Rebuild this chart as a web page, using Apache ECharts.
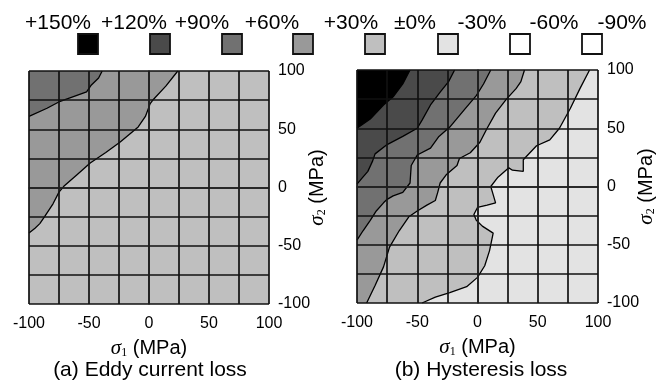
<!DOCTYPE html>
<html>
<head>
<meta charset="utf-8">
<script src="https://cdn.jsdelivr.net/npm/echarts@6/dist/echarts.min.js"></script>
<style>
  html, body { margin: 0; padding: 0; background: #fff; }
  #chart { width: 664px; height: 383px; }
</style>
</head>
<body>
<div id="chart"></div>
<script>
// ---- Data (sigma1, sigma2 in MPa) ----
const legendLabels = ['+150%', '+120%', '+90%', '+60%', '+30%', '±0%', '-30%', '-60%', '-90%'];
const levelColors = ['#000000', '#4a4a4a', '#717171', '#999999', '#bfbfbf', '#e3e3e3', '#ffffff', '#ffffff'];
const axisTicks = [-100, -50, 0, 50, 100];

// (a) Eddy current loss: contour lines
const eddyLine60 = [[-100,-39],[-95,-35],[-91,-31],[-87,-25],[-80,-14],[-75,-4],[-71,1],[-60,11],[-49,21],[-36,30],[-24,39],[-9,52],[-3,61],[1,72],[4,76],[14,87],[24,100]];
const eddyLine90 = [[-100,61],[-85,68],[-74,74],[-63,78],[-52,82],[-48,88],[-42,94],[-39,100]];

// (b) Hysteresis loss: contour lines
const hystLine150 = [[-100,50],[-89,58],[-78,70],[-70,77],[-62,88],[-56,100]];
const hystLine120 = [[-100,2],[-96,7],[-91,13],[-87,22],[-85,28],[-75,36],[-62,43],[-50,50],[-46,57],[-39,70],[-31,81],[-24,90],[-19,100]];
const hystLine90 = [[-100,-46],[-95,-38],[-89,-29],[-84,-21],[-78,-14],[-75,-11],[-70,-8],[-62,-5],[-56,3],[-55,18],[-50,27],[-39,33],[-32,43],[-23,51],[-10,67],[-1,78],[5,88],[11,100]];
const hystLine60 = [[-92,-100],[-85,-85],[-78,-69],[-73,-52],[-65,-38],[-57,-26],[-50,-21],[-42,-16],[-35,-12],[-33,-5],[-31,3],[-26,10],[-17,18],[-15,24],[-6,29],[2,38],[8,50],[15,63],[24,75],[32,84],[36,90],[39,100]];
const hystLine30 = [[-46,-100],[-35,-95],[-23,-91],[-9,-86],[0,-78],[6,-68],[10,-55],[13,-40],[4,-34],[-1,-29],[-3,-24],[0,-18],[8,-16],[15,-14],[13,-7],[11,0],[17,8],[26,16],[29,14],[38,13],[38,23],[49,35],[60,40],[68,50],[77,67],[85,84],[93,100]];

// ---- Layout (pixels) ----
const legendLabelX = [58, 134, 202, 272, 351, 415, 482, 554, 622];
const legendBoxX = [88, 160, 232, 303, 375, 448, 520, 592];

// ---- Chart ----
const chart = echarts.init(document.getElementById('chart'));
const FONT = 'Liberation Sans, Arial, sans-serif';

// region above/left of a contour line, closed through the top-left corner
function regionOf(line) {
  const pts = line.slice();
  pts.push([-100, 100]);
  if (line[0][1] === -100) pts.push([-100, -100]);
  return pts;
}

function fillSeries(line, color, gi) {
  const pts = regionOf(line);
  return {
    type: 'custom', xAxisIndex: gi, yAxisIndex: gi, z: 1, silent: true,
    data: pts, encode: { x: 0, y: 1 },
    renderItem: function (params, api) {
      if (params.dataIndex !== 0) return null;
      return {
        type: 'polygon',
        shape: { points: pts.map(p => api.coord(p)) },
        style: { fill: color, stroke: null }
      };
    }
  };
}

function lineSeries(line, gi) {
  return {
    type: 'line', xAxisIndex: gi, yAxisIndex: gi, z: 3, silent: true,
    data: line, showSymbol: false, symbol: 'none',
    lineStyle: { color: '#000', width: 1.3 }
  };
}

const labelFmt = v => (axisTicks.indexOf(v) >= 0 ? String(v) : '');
const nameRich = {
  i: { fontFamily: 'Liberation Serif, serif', fontStyle: 'italic', fontSize: 21, color: '#000' },
  s: { fontFamily: 'Liberation Serif, serif', fontSize: 12, color: '#000', verticalAlign: 'bottom', padding: [8, 0, 0, 0] },
  t: { fontFamily: FONT, fontSize: 20, color: '#000' }
};

function xAxisOf(gi) {
  return {
    type: 'value', gridIndex: gi, min: -100, max: 100, interval: 25, z: 5,
    axisLine: { show: true, lineStyle: { color: '#222', width: 1.5 } },
    axisTick: { show: false },
    axisLabel: { formatter: labelFmt, fontSize: 16, color: '#000', fontFamily: FONT, margin: 12 },
    splitLine: { show: true, lineStyle: { color: '#111', width: 1.7 } },
    name: '{i|σ}{s|1}{t| (MPa)}', nameLocation: 'middle', nameGap: 34, nameMoveOverlap: false,
    nameTextStyle: { rich: nameRich }
  };
}
function yAxisOf(gi) {
  return {
    type: 'value', gridIndex: gi, min: -100, max: 100, interval: 25, position: 'right', z: 5,
    axisLine: { show: true, lineStyle: { color: '#222', width: 1.5 } },
    axisTick: { show: false },
    axisLabel: { formatter: labelFmt, fontSize: 16, color: '#000', fontFamily: FONT, margin: 9 },
    splitLine: { show: true, lineStyle: { color: '#111', width: 1.7 } },
    name: '{i|σ}{s|2}{t| (MPa)}', nameLocation: 'middle', nameGap: 38, nameRotate: 90, nameMoveOverlap: false,
    nameTextStyle: { rich: nameRich }
  };
}

// legend graphics
const graphics = [];
legendLabels.forEach((lab, i) => {
  graphics.push({
    type: 'text', x: legendLabelX[i], y: 23,
    style: { text: lab, fontSize: 21, fontFamily: FONT, fill: '#000', align: 'center', verticalAlign: 'middle' }
  });
});
levelColors.forEach((c, i) => {
  graphics.push({
    type: 'rect', shape: { x: legendBoxX[i] - 10, y: 34, width: 20, height: 20 },
    style: { fill: c, stroke: '#111', lineWidth: 1.8 }
  });
});
graphics.push({ type: 'text', x: 150, y: 370,
  style: { text: '(a) Eddy current loss', fontSize: 21, fontFamily: FONT, fill: '#000', align: 'center', verticalAlign: 'middle' } });
graphics.push({ type: 'text', x: 481, y: 370,
  style: { text: '(b) Hysteresis loss', fontSize: 21, fontFamily: FONT, fill: '#000', align: 'center', verticalAlign: 'middle' } });

chart.setOption({
  animation: false,
  grid: [
    { left: 29, top: 71, width: 240, height: 233, show: true, backgroundColor: levelColors[4], borderWidth: 0 },
    { left: 357, top: 70, width: 241, height: 233, show: true, backgroundColor: levelColors[5], borderWidth: 0 }
  ],
  xAxis: [xAxisOf(0), xAxisOf(1)],
  yAxis: [yAxisOf(0), yAxisOf(1)],
  graphic: graphics,
  series: [
    fillSeries(eddyLine60, levelColors[3], 0),
    fillSeries(eddyLine90, levelColors[2], 0),
    lineSeries(eddyLine60, 0),
    lineSeries(eddyLine90, 0),
    fillSeries(hystLine30, levelColors[4], 1),
    fillSeries(hystLine60, levelColors[3], 1),
    fillSeries(hystLine90, levelColors[2], 1),
    fillSeries(hystLine120, levelColors[1], 1),
    fillSeries(hystLine150, levelColors[0], 1),
    lineSeries(hystLine30, 1),
    lineSeries(hystLine60, 1),
    lineSeries(hystLine90, 1),
    lineSeries(hystLine120, 1),
    lineSeries(hystLine150, 1)
  ]
});
</script>
</body>
</html>
